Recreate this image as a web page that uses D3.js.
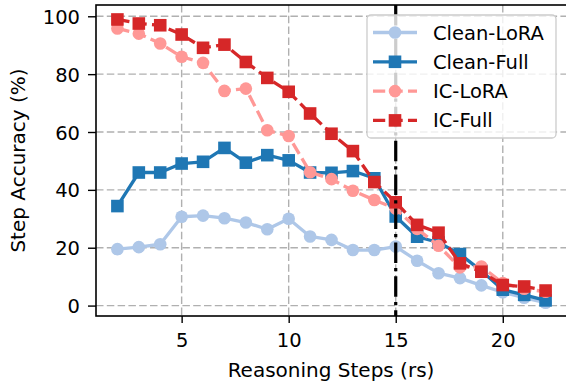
<!DOCTYPE html>
<html><head><meta charset="utf-8">
<script src="https://cdn.jsdelivr.net/npm/d3@7"></script>
<style>body{margin:0;background:#fff}svg{display:block}text{font-family:"DejaVu Sans",sans-serif}</style>
</head><body><svg id="c" width="566" height="388"></svg>
<script>
const steps = [2,3,4,5,6,7,8,9,10,11,12,13,14,15,16,17,18,19,20,21,22];
const cleanLoRA = [19.5,20.2,21.2,30.7,31.1,30.2,28.7,26.4,30.0,23.9,22.7,19.2,19.2,20.4,15.5,11.2,9.5,7.0,4.6,2.7,1.0];
const cleanFull = [34.4,46.0,46.0,49.1,49.7,54.5,49.4,52.0,50.2,46.0,45.9,46.5,44.0,30.8,23.8,21.8,17.8,12.0,5.5,3.7,1.8];
const icLoRA = [95.8,94.0,90.6,86.0,83.9,74.2,75.0,60.6,58.6,46.1,43.7,39.7,36.5,33.5,26.5,20.7,13.2,13.5,7.8,5.8,4.8];
const icFull = [98.9,97.5,96.9,93.7,89.1,90.2,84.2,78.7,73.9,66.4,59.4,53.4,42.7,35.7,27.9,25.2,14.6,11.7,7.1,6.6,5.2];
const xTicks = [5,10,15,20];
const yTicks = [0,20,40,60,80,100];
const seriesNames = ["Clean-LoRA","Clean-Full","IC-LoRA","IC-Full"];
const seriesColors = ["#aec7e8","#1f77b4","#ff9896","#d62728"];
const seriesMarkers = ["circle","square","circle","square"];
const seriesDashed = [false,false,true,true];
const cutoff = 15;

const series = [cleanLoRA, cleanFull, icLoRA, icFull].map((v,i)=>({
  name: seriesNames[i], color: seriesColors[i], marker: seriesMarkers[i], dashed: seriesDashed[i],
  pts: steps.map((s,j)=>({x:s,y:v[j]}))
}));

const svg = d3.select("#c");
const L=96, R=567, T=5, B=316;
const x = d3.scaleLinear().domain([1,23]).range([L,R]);
const y = d3.scaleLinear().domain([-3.6,103.9]).range([B,T]);
const FS = 19.5;
const LW = 3.3;
const dashP = `${3.7*LW},${1.6*LW}`;

// grid
const grid = svg.append("g");
xTicks.forEach(t=>grid.append("line").attr("x1",x(t)).attr("x2",x(t)).attr("y1",T).attr("y2",B)
  .attr("stroke","#b0b0b0").attr("stroke-width",1.4).attr("stroke-dasharray","7.5,3.3"));
yTicks.forEach(t=>grid.append("line").attr("x1",L).attr("x2",R).attr("y1",y(t)).attr("y2",y(t))
  .attr("stroke","#b0b0b0").attr("stroke-width",1.4).attr("stroke-dasharray","7.5,3.3"));

// axes
const xAxis = d3.axisBottom(x).tickValues(xTicks).tickSize(7).tickPadding(10);
const yAxis = d3.axisLeft(y).tickValues(yTicks).tickSize(8).tickPadding(8);
const gx = svg.append("g").attr("transform",`translate(0,${B})`).call(xAxis);
const gy = svg.append("g").attr("transform",`translate(${L},0)`).call(yAxis);
[gx,gy].forEach(g=>{
  g.select(".domain").remove();
  g.selectAll(".tick line").attr("stroke","#000").attr("stroke-width",1.4);
  g.selectAll(".tick text").attr("fill","#000").style("font-size",FS+"px").style("font-family","DejaVu Sans");
});
gx.selectAll(".tick text").attr("dy","0.71em");
gy.selectAll(".tick text").attr("dy","0.36em");

const plot = svg.append("g");
const line = d3.line().x(d=>x(d.x)).y(d=>y(d.y));
const sym = {circle: d3.symbol().type(d3.symbolCircle).size(Math.PI*6.3*6.3),
             square: d3.symbol().type(d3.symbolSquare).size(12.6*12.6)};
series.forEach(s=>{
  plot.append("path").datum(s.pts).attr("d",line).attr("fill","none").attr("stroke",s.color)
    .attr("stroke-width",LW).attr("stroke-linejoin","round").attr("stroke-linecap","butt")
    .attr("stroke-dasharray", s.dashed?dashP:null);
  plot.selectAll(null).data(s.pts).enter().append("path")
    .attr("d",sym[s.marker]).attr("transform",d=>`translate(${x(d.x)},${y(d.y)})`).attr("fill",s.color);
});

// vertical cutoff
svg.append("line").attr("x1",x(cutoff)).attr("x2",x(cutoff)).attr("y1",T).attr("y2",B)
  .attr("stroke","#000").attr("stroke-width",3.2)
  .attr("stroke-dasharray",`${6.4*3.2},${1.6*3.2},${1*3.2},${1.6*3.2}`);

// spines
svg.append("rect").attr("x",L).attr("y",T).attr("width",R-L).attr("height",B-T)
  .attr("fill","none").attr("stroke","#000").attr("stroke-width",1.6);

// labels
svg.append("text").attr("x",331).attr("y",377).attr("text-anchor","middle")
  .style("font-size","20px").text("Reasoning Steps (rs)");
svg.append("text").attr("transform",`translate(25,${(T+B)/2}) rotate(-90)`).attr("text-anchor","middle")
  .style("font-size","20px").text("Step Accuracy (%)");

// legend
const lg = svg.append("g");
lg.append("rect").attr("x",367).attr("y",15).attr("width",189).attr("height",123).attr("rx",4)
  .attr("fill","rgba(255,255,255,0.8)").attr("stroke","#cccccc").attr("stroke-width",1.3);
series.forEach((s,i)=>{
  const cy = 32.5 + i*29.3;
  lg.append("line").attr("x1",373).attr("x2",417).attr("y1",cy).attr("y2",cy)
    .attr("stroke",s.color).attr("stroke-width",LW).attr("stroke-dasharray", s.dashed?dashP:null);
  lg.append("path").attr("d",sym[s.marker]).attr("transform",`translate(395,${cy})`).attr("fill",s.color);
  lg.append("text").attr("x",433).attr("y",cy).attr("dy","0.36em").style("font-size",FS+"px").text(s.name);
});
</script></body></html>
